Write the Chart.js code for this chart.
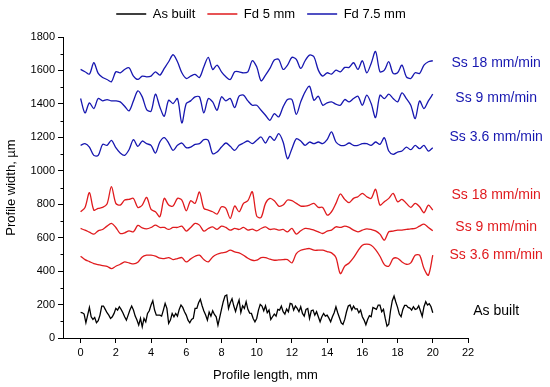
<!DOCTYPE html>
<html>
<head>
<meta charset="utf-8">
<script src="https://cdn.jsdelivr.net/npm/chart.js@4/dist/chart.umd.min.js"></script>
<style>
	html, body { margin: 0; padding: 0; background: #fff; }
	canvas { display: block; }
</style>
</head>
<body>
<canvas id="profile-chart" width="550" height="387"></canvas>
<script>
// sampling step along the profile, mm
const stepSmooth = 0.25;
const stepRough = 0.1;

// Fd 7.5 mm (blue)
const fd75Ss18 = [1606,1592,1578,1646,1582,1558,1546,1532,1592,1586,1606,1616,1566,1546,1566,1562,1566,1592,1572,1612,1652,1694,1652,1586,1552,1566,1576,1558,1622,1678,1606,1632,1592,1562,1546,1592,1592,1586,1592,1658,1622,1538,1572,1612,1662,1666,1606,1632,1678,1666,1612,1658,1692,
	1682,1602,1566,1586,1578,1602,1592,1618,1618,1646,1606,1658,1586,1642,1714,1592,1602,1652,1582,1586,1632,1562,1552,1586,1582,1632,1652,1658];
const fd75Ss9 = [1432,1346,1406,1372,1432,1418,1426,1418,1418,1412,1386,1358,1418,1478,1442,1366,1356,1458,1382,1326,1422,1402,1432,1286,1402,1418,1442,1442,1346,1432,1412,1362,1442,1418,1432,1378,1446,1452,1418,1392,1392,1362,1332,1302,1342,1322,1382,1426,1426,1338,1412,1472,1506,
	1422,1446,1392,1406,1412,1398,1392,1426,1412,1432,1446,1392,1452,1402,1318,1452,1432,1458,1432,1412,1466,1432,1392,1312,1418,1372,1418,1458];
const fd75Ss36 = [1152,1162,1142,1092,1092,1158,1152,1182,1138,1106,1092,1126,1186,1146,1178,1162,1152,1106,1172,1198,1166,1122,1152,1166,1138,1142,1158,1162,1186,1182,1102,1112,1142,1166,1146,1122,1152,1166,1178,1162,1182,1202,1166,1206,1182,1222,1172,1072,1132,1192,1178,1152,1172,
	1162,1172,1162,1186,1232,1172,1152,1152,1166,1152,1152,1162,1162,1152,1172,1158,1198,1118,1098,1112,1118,1142,1126,1152,1132,1152,1118,1138];

// Fd 5 mm (red)
const fd5Ss18 = [755,781,869,765,775,781,801,905,805,795,825,829,835,781,795,841,769,755,725,835,795,789,835,825,761,821,805,873,775,765,755,741,785,775,715,789,755,805,821,875,729,721,805,835,821,789,795,825,821,805,789,789,795,
	805,781,781,735,755,805,861,829,809,835,845,865,845,835,889,795,815,835,865,815,829,805,781,805,785,749,795,765];
const fd5Ss9 = [655,645,633,621,641,649,669,685,661,625,629,641,635,673,659,653,661,675,661,661,649,661,661,669,639,661,685,675,639,655,665,649,669,661,645,655,649,661,645,651,641,655,665,649,653,645,649,635,655,621,641,655,653,
	645,635,625,639,645,665,661,669,661,645,635,645,653,649,641,621,585,635,639,645,645,649,653,655,669,681,661,641];
const fd5Ss36 = [489,469,457,445,439,433,429,415,429,441,455,449,443,453,485,495,495,489,477,475,481,469,475,481,455,473,489,495,469,455,485,501,509,513,525,515,509,495,477,465,465,481,481,471,465,467,469,469,449,505,525,531,535,
	525,525,525,517,509,481,385,430,449,481,521,555,561,555,529,489,439,429,475,477,455,441,449,495,495,415,375,495];

// As built (black)
const asBuilt = [153,151,143,91,137,183,127,111,123,91,103,137,191,191,171,151,137,117,127,147,
	177,167,187,171,151,127,107,137,167,191,167,131,107,77,117,67,117,97,147,163,
	197,223,167,137,137,137,131,167,207,177,87,107,147,127,147,131,171,197,183,157,
	137,107,91,111,117,177,177,211,231,193,161,137,107,155,131,163,141,127,77,123,
	171,217,251,257,177,211,235,191,159,197,227,153,193,177,217,171,149,147,117,97,
	117,167,201,191,163,193,151,167,111,127,143,131,171,167,191,157,143,173,157,207,
	203,167,191,177,157,187,147,131,171,177,117,163,167,137,157,127,97,127,147,131,
	137,119,97,127,151,187,151,121,91,81,111,157,191,197,167,191,173,175,151,167,
	127,107,79,111,133,127,183,177,171,197,197,157,171,117,71,83,163,223,251,215,
	183,143,127,171,195,195,183,179,167,187,171,175,193,161,129,187,217,197,205,187,151];

const xTicks = [0, 2, 4, 6, 8, 10, 12, 14, 16, 18, 20, 22];
const yMinorTicks = [100, 300, 500, 700, 900, 1100, 1300, 1500, 1700];

const curveNames = ["Ss 18 mm/min", "Ss 9 mm/min", "Ss 3.6 mm/min", "Ss 18 mm/min", "Ss 9 mm/min", "Ss 3.6 mm/min", "As built"];
const curveLabelY = [1645, 1435, 1202, 855, 664, 496, 161];
const curveLabelX = 23.6;

const BLUE = "#1717b0";
const RED = "#e01b1e";
const FONT = "'Liberation Sans', Arial, sans-serif";

Chart.defaults.font.family = FONT;
Chart.defaults.color = "#000";

const toPoints = (vals, step) => vals.map((v, i) => ({ x: i * step, y: v }));

function series(label, vals, step, color, tension) {
	return {
		label,
		data: toPoints(vals, step),
		borderColor: color,
		backgroundColor: color,
		borderWidth: 1.3,
		pointRadius: 0,
		tension,
	};
}

const curveLabels = {
	id: "curveLabels",
	afterDraw(chart) {
		const { ctx, scales } = chart;
		const colors = [BLUE, BLUE, BLUE, RED, RED, RED, "#000"];
		ctx.save();
		ctx.font = "14px " + FONT;
		ctx.textAlign = "center";
		ctx.textBaseline = "middle";
		curveNames.forEach((name, i) => {
			ctx.fillStyle = colors[i];
			ctx.fillText(name, scales.x.getPixelForValue(curveLabelX), scales.y.getPixelForValue(curveLabelY[i]));
		});
		// minor ticks on the y axis
		ctx.strokeStyle = "#000";
		ctx.lineWidth = 1;
		const left = Math.round(chart.chartArea.left) + 0.5;
		yMinorTicks.forEach((v) => {
			const y = Math.round(scales.y.getPixelForValue(v)) + 0.5;
			ctx.beginPath();
			ctx.moveTo(left - 3, y);
			ctx.lineTo(left, y);
			ctx.stroke();
		});
		ctx.restore();
	},
};

// extra room under the legend, and move it a bit right like the original
const legendSpacer = {
	id: "legendSpacer",
	beforeInit(chart) {
		const fit = chart.legend.fit;
		chart.legend.fit = function () {
			fit.call(this);
			this.height += 6.5;
		};
	},
	afterLayout(chart) {
		chart.legend.left += 27;
		chart.legend.right += 27;
	},
};

const datasets = [
	series("As built", asBuilt, stepRough, "#000", 0),
	series("Fd 5 mm", fd5Ss18, stepSmooth, RED, 0.3),
	series("Fd 5 mm", fd5Ss9, stepSmooth, RED, 0.3),
	series("Fd 5 mm", fd5Ss36, stepSmooth, RED, 0.3),
	series("Fd 7.5 mm", fd75Ss18, stepSmooth, BLUE, 0.3),
	series("Fd 7.5 mm", fd75Ss9, stepSmooth, BLUE, 0.3),
	series("Fd 7.5 mm", fd75Ss36, stepSmooth, BLUE, 0.3),
];

new Chart(document.getElementById("profile-chart"), {
	type: "line",
	data: { datasets },
	options: {
		responsive: false,
		animation: false,
		layout: { padding: { top: -4.5, right: 82, bottom: 0, left: 0 } },
		plugins: {
			legend: {
				position: "top",
				labels: {
					font: { size: 13 },
					boxWidth: 30,
					boxHeight: 0,
					padding: 12,
					filter: (item) => [0, 1, 4].includes(item.datasetIndex),
				},
			},
			tooltip: { enabled: false },
		},
		scales: {
			x: {
				type: "linear",
				min: -1,
				max: 22,
				afterBuildTicks: (axis) => { axis.ticks = xTicks.map((value) => ({ value })); },
				afterFit: (axis) => { axis.height = 49; },
				ticks: { font: { size: 11 }, padding: 3, maxRotation: 0 },
				grid: { drawOnChartArea: false, tickLength: 5, color: "#000" },
				border: { color: "#000", width: 1 },
				title: { display: true, text: "Profile length, mm", font: { size: 13 }, padding: { top: 0, bottom: 4 } },
			},
			y: {
				min: 0,
				max: 1800,
				afterFit: (axis) => { axis.width = 63; },
				ticks: { stepSize: 200, font: { size: 11 }, padding: 3, callback: (v) => String(v) },
				grid: { drawOnChartArea: false, tickLength: 5, color: "#000" },
				border: { color: "#000", width: 1 },
				title: { display: true, text: "Profile width, \u00b5m", font: { size: 13 }, padding: { top: 4, bottom: 0 } },
			},
		},
	},
	plugins: [legendSpacer, curveLabels],
});
</script>
</body>
</html>
